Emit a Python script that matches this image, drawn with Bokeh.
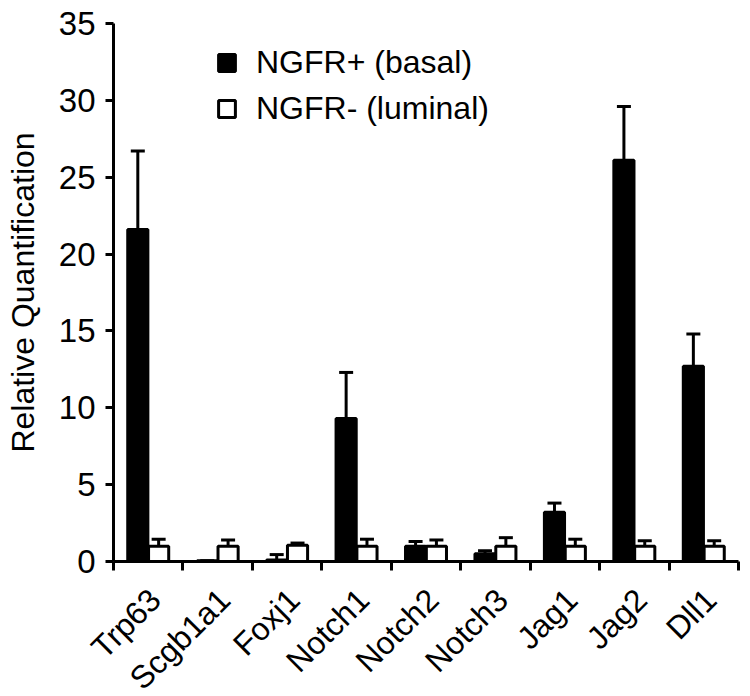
import math
import numpy as np
from bokeh.plotting import figure
from bokeh.models import (ColumnDataSource, FixedTicker, Whisker, TeeHead,
                          Legend, LegendItem, Range1d, Label)
from bokeh.embed import file_html
from bokeh.resources import INLINE

genes = ["Trp63", "Scgb1a1", "Foxj1", "Notch1", "Notch2", "Notch3", "Jag1", "Jag2", "Dll1"]
basal = [21.6, 0.05, 0.1, 9.3, 1.0, 0.5, 3.2, 26.1, 12.7]
basal_err_top = [26.7, 0.05, 0.45, 12.3, 1.3, 0.7, 3.8, 29.6, 14.8]
luminal = [1.0, 1.0, 1.05, 1.0, 1.0, 1.0, 1.0, 1.0, 1.0]
luminal_err_top = [1.45, 1.4, 1.2, 1.45, 1.4, 1.55, 1.45, 1.35, 1.35]
y_ticks = [0, 5, 10, 15, 20, 25, 30, 35]
y_max = 35
y_title = "Relative Quantification"

FONT = "Liberation Sans"
FS = "32px"
TICK_FS = "33px"

n = len(genes)
idx = np.arange(n)
centers = idx + 0.5
off = 0.15
bw = 0.29
label_shift = 0.10

src_b = ColumnDataSource(dict(x=centers - off, top=basal, upper=basal_err_top))
src_l = ColumnDataSource(dict(x=centers + off, top=luminal, upper=luminal_err_top))

# The frame covers the whole canvas; axes sit at fixed locations (x=0, y=0)
# so that rotated gene names and tick labels are drawn inside it.
W, H = 750, 694
LEFT, TOP, PLOT_W, PLOT_H = 113, 23, 625, 538
px_x = PLOT_W / n
px_y = PLOT_H / y_max
x_range = Range1d(-LEFT / px_x, n + (W - LEFT - PLOT_W) / px_x)
y_range = Range1d(-(H - TOP - PLOT_H) / px_y, y_max + TOP / px_y)

p = figure(width=W, height=H, output_backend="svg", toolbar_location=None,
           x_range=x_range, y_range=y_range,
           min_border_left=0, min_border_top=0, min_border_right=0,
           min_border_bottom=0)
p.outline_line_color = None
p.grid.visible = False
p.background_fill_color = "white"

for src in (src_b, src_l):
    w = Whisker(source=src, base="x", upper="upper", lower="top", dimension="height",
                line_color="black", line_width=3,
                upper_head=TeeHead(size=14, line_width=3, line_color="black"),
                lower_head=None, level="underlay")
    p.add_layout(w)

rb = p.vbar(x="x", top="top", width=bw, source=src_b, fill_color="black",
            line_color="black", line_width=3)
rl = p.vbar(x="x", top="top", width=bw, source=src_l, fill_color="white",
            line_color="black", line_width=3)

# y axis at x=0
ya = p.yaxis[0]
ya.fixed_location = 0
ya.bounds = (0, y_max)
ya.ticker = FixedTicker(ticks=y_ticks)
ya.axis_line_width = 3
ya.axis_line_color = "black"
ya.major_tick_line_width = 3
ya.major_tick_out = 8
ya.major_tick_in = 0
ya.minor_tick_line_color = None
ya.major_label_text_font = FONT
ya.major_label_text_font_size = TICK_FS
ya.major_label_text_color = "black"
ya.major_label_standoff = 10

p.add_layout(Label(x=0, y=y_max / 2, x_offset=-91, text=y_title, angle=math.pi / 2,
                   text_align="center", text_baseline="middle",
                   text_font=FONT, text_font_size=FS, text_color="black"))

# x axis at y=0: boundary tick marks (minor), gene names at (invisible) major ticks
xa = p.xaxis[0]
xa.fixed_location = 0
xa.bounds = (0, n)
label_pos = [float(c + label_shift) for c in centers]
xa.ticker = FixedTicker(ticks=label_pos, minor_ticks=[float(i) for i in range(n + 1)])
xa.major_label_overrides = {lp: g for lp, g in zip(label_pos, genes)}
xa.axis_line_width = 3
xa.axis_line_color = "black"
xa.major_tick_line_color = None
xa.major_tick_out = 0
xa.major_tick_in = 0
xa.minor_tick_line_width = 3
xa.minor_tick_line_color = "black"
xa.minor_tick_out = 9
xa.minor_tick_in = 0
xa.major_label_orientation = math.pi / 4
xa.major_label_text_font = FONT
xa.major_label_text_font_size = FS
xa.major_label_text_color = "black"
xa.major_label_standoff = 24

legend = Legend(items=[LegendItem(label="NGFR+ (basal)", renderers=[rb]),
                       LegendItem(label="NGFR- (luminal)", renderers=[rl])],
                location=(216, H - 127), glyph_width=21, glyph_height=21,
                label_text_font=FONT, label_text_font_size=FS, label_text_color="black",
                label_standoff=19, label_height=30, spacing=9,
                padding=0, margin=0, border_line_color=None,
                background_fill_alpha=0)
p.add_layout(legend)

open("out.html", "w").write(file_html(p, INLINE))
